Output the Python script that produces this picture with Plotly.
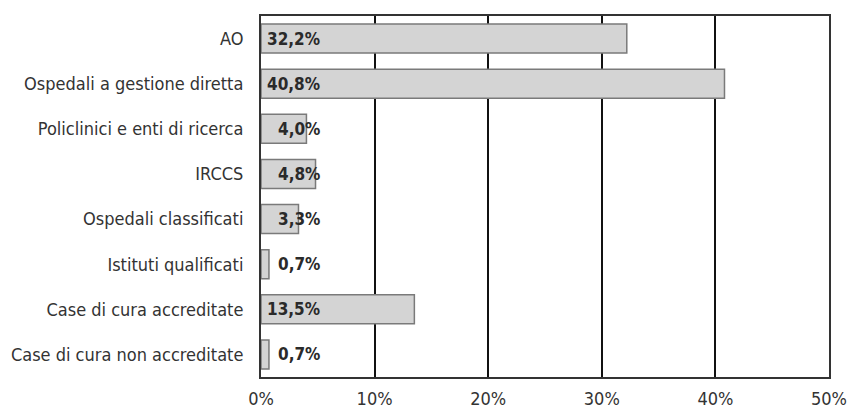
import plotly.graph_objects as go

categories = [
    "AO",
    "Ospedali a gestione diretta",
    "Policlinici e enti di ricerca",
    "IRCCS",
    "Ospedali classificati",
    "Istituti qualificati",
    "Case di cura accreditate",
    "Case di cura non accreditate",
]
values = [32.2, 40.8, 4.0, 4.8, 3.3, 0.7, 13.5, 0.7]
value_labels = ["32,2%", "40,8%", "4,0%", "4,8%", "3,3%", "0,7%", "13,5%", "0,7%"]
tick_vals = [0, 10, 20, 30, 40, 50]
tick_text = ["0%", "10%", "20%", "30%", "40%", "50%"]

FONT = "Liberation Sans Narrow, DejaVu Sans Condensed, Arial Narrow, sans-serif"
LABEL_X = 5.37  # right edge of value labels (data units)

fig = go.Figure()
fig.add_trace(go.Bar(
    y=categories, x=values, orientation="h",
    marker=dict(color="#d4d4d4", line=dict(color="#7a7a7a", width=1.5)),
    width=0.64, hoverinfo="skip",
))

for c, t in zip(categories, value_labels):
    fig.add_annotation(x=LABEL_X, y=c, text="<b>" + t + "</b>", showarrow=False,
                       xanchor="right", yanchor="middle",
                       font=dict(family=FONT, size=17, color="#2a2a2a"))

fig.update_layout(
    width=853, height=408,
    margin=dict(l=261, r=24, t=16, b=31),
    paper_bgcolor="white", plot_bgcolor="white",
    showlegend=False,
    font=dict(family=FONT, size=18, color="#333333"),
    bargap=0.36,
)
fig.update_xaxes(range=[0, 50], tickvals=tick_vals, ticktext=tick_text,
                 showgrid=True, gridcolor="#111111", gridwidth=1.5,
                 showline=True, linecolor="#333333", linewidth=2, mirror=True,
                 zeroline=False, ticks="", ticklabelstandoff=4, automargin=False,
                 tickfont=dict(family=FONT, size=18, color="#333333"))
fig.update_yaxes(autorange="reversed", showline=True, linecolor="#333333",
                 linewidth=2, mirror=True, showgrid=False, ticks="",
                 ticklabelstandoff=12, automargin=False,
                 tickfont=dict(family=FONT, size=18, color="#333333"))

fig.write_html("out.html", config={"displayModeBar": False},
               post_script="document.body.style.margin='0';")
